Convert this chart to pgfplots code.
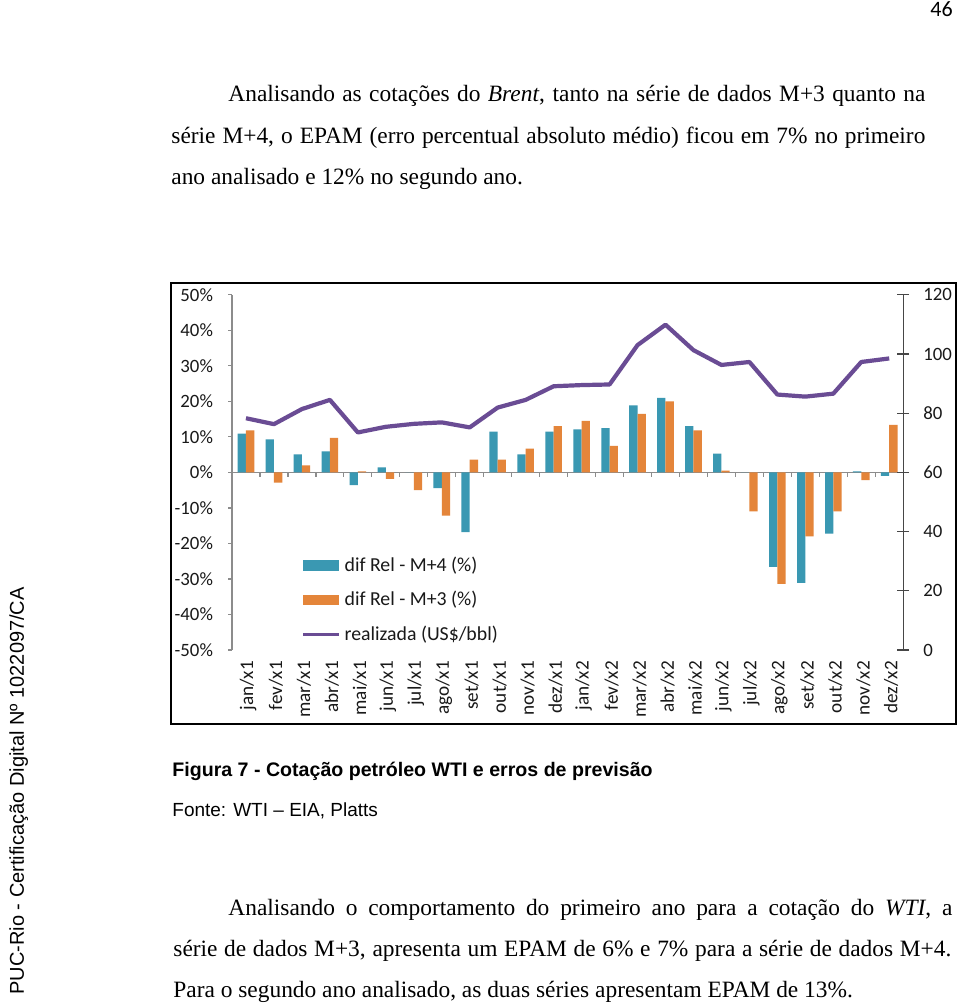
\documentclass[border=0pt]{standalone}
\usepackage{pgfplots}
\pgfplotsset{compat=1.18}
\usepackage{pgfplotstable}
\usepackage{fontspec}
\setmainfont{Liberation Serif}
\newfontfamily\carlito{Carlito}
\newfontfamily\arial{Liberation Sans}
\definecolor{mteal}{RGB}{58,152,178}
\definecolor{morange}{RGB}{228,133,58}
\definecolor{mpurple}{RGB}{106,76,148}
\definecolor{axgray}{RGB}{140,140,140}
\definecolor{raxis}{RGB}{70,70,70}
\definecolor{txt}{RGB}{25,25,25}

\pgfplotstableread{
idx m4 m3 real
0 10.9 11.8 78.3
1 9.3 -2.9 76.3
2 5.1 2.0 81.4
3 5.9 9.7 84.5
4 -3.6 0.3 73.5
5 1.4 -1.8 75.4
6 0.0 -5.0 76.4
7 -4.4 -12.2 76.9
8 -16.8 3.6 75.2
9 11.5 3.6 81.9
10 5.1 6.7 84.5
11 11.5 13.0 89.1
12 12.1 14.5 89.5
13 12.5 7.5 89.7
14 18.9 16.5 103.0
15 21.0 20.0 109.9
16 13.0 11.8 101.3
17 5.3 0.5 96.3
18 0.0 -11.0 97.3
19 -26.6 -31.4 86.3
20 -31.1 -18.0 85.6
21 -17.2 -11.0 86.6
22 0.3 -2.2 97.3
23 -1.0 13.4 98.5
}\datatable

\begin{document}
\begin{tikzpicture}[x=0.5pt,y=-0.5pt]
\path[use as bounding box, fill=white] (0,0) rectangle (960,1004);

% page number
\node[anchor=base west, inner sep=0, font=\carlito\fontsize{11}{12}\selectfont] at (930,17) {46};

% side text
\node[rotate=90, anchor=base west, inner sep=0, font=\arial\fontsize{10}{12}\selectfont] at (24,995) {PUC-Rio - Certificação Digital Nº 1022097/CA};

% paragraphs
\begin{scope}[every node/.style={anchor=base west, inner sep=0, font=\fontsize{11.7}{14}\selectfont}]
\node at (228,101.5) {\hbox to 348.5pt{Analisando as cotações do \textit{Brent}, tanto na série de dados M+3 quanto na}};
\node at (171,143.2) {\hbox to 377pt{série M+4, o EPAM (erro percentual absoluto médio) ficou em 7\% no primeiro}};
\node at (171,185) {ano analisado e 12\% no segundo ano.};
\node at (228,915) {\hbox to 362pt{Analisando o comportamento do primeiro ano para a cotação do \textit{WTI}, a}};
\node at (173,956) {\hbox to 389pt{série de dados M+3, apresenta um EPAM de 6\% e 7\% para a série de dados M+4.}};
\node at (173,997) {Para o segundo ano analisado, as duas séries apresentam EPAM de 13\%.};
\end{scope}

% caption
\node[anchor=base west, inner sep=0, font=\arial\bfseries\fontsize{9.8}{12}\selectfont] at (172,776) {Figura 7 - Cotação petróleo WTI e erros de previsão};
\node[anchor=base west, inner sep=0, font=\arial\fontsize{9.5}{12}\selectfont] at (172,816.5) {Fonte: WTI – EIA, Platts};

% chart frame
\draw[line width=1pt] (170.5,283.5) rectangle (956,723.5);

\coordinate (axsw) at (232,650);

\begin{axis}[
  at={(axsw)}, anchor=south west,
  scale only axis, width=335.6pt, height=177.6pt,
  xmin=-0.5, xmax=23.5, ymin=-50, ymax=50,
  axis y line*=left, axis x line*=bottom,
  axis line style={-},
  x axis line style={draw=none},
  y axis line style={axgray, line width=0.6pt},
  xtick={0,...,23},
  xticklabels={jan/x1,fev/x1,mar/x1,abr/x1,mai/x1,jun/x1,jul/x1,ago/x1,set/x1,out/x1,nov/x1,dez/x1,jan/x2,fev/x2,mar/x2,abr/x2,mai/x2,jun/x2,jul/x2,ago/x2,set/x2,out/x2,nov/x2,dez/x2},
  major x tick style={draw=none},
  xticklabel style={rotate=90, anchor=east, font=\carlito\fontsize{9.6}{10}\selectfont, text=txt, yshift=-1pt},
  ytick={-50,-40,...,50},
  yticklabels={-50\%,-40\%,-30\%,-20\%,-10\%,0\%,10\%,20\%,30\%,40\%,50\%},
  major y tick style={axgray, line width=0.6pt},
  tick align=outside, major tick length=2pt,
  yticklabel style={font=\carlito\fontsize{9.4}{10}\selectfont, text=txt, xshift=-4pt},
  legend style={at={(0.104,0.275)}, anchor=north west, draw=none, fill=none,
    font=\carlito\fontsize{9.9}{11}\selectfont, text=txt, row sep=4.5pt, inner sep=0pt},
  legend cell align=left,
  clip=false,
]
\draw[axgray, line width=0.6pt] (axis cs:-0.5,0) -- (axis cs:23.5,0);
\pgfplotsinvokeforeach{0.5,1.5,...,23.5}{\draw[axgray, line width=0.6pt] (axis cs:#1,0) -- ++(0pt,-2.5pt);}
\addplot[ybar, bar width=4.15pt, bar shift=-2.075pt, fill=mteal, draw=none,
  legend image code/.code={\fill[mteal] (0pt,-2.6pt) rectangle (18pt,2.6pt);}]
  table[x=idx, y=m4]{\datatable};
\addlegendentry{dif Rel - M+4 (\%)}
\addplot[ybar, bar width=4.15pt, bar shift=2.075pt, fill=morange, draw=none,
  legend image code/.code={\fill[morange] (0pt,-2.6pt) rectangle (18pt,2.6pt);}]
  table[x=idx, y=m3]{\datatable};
\addlegendentry{dif Rel - M+3 (\%)}
\addlegendimage{legend image code/.code={\draw[mpurple, line width=1.2pt] (0pt,0pt) -- (18pt,0pt);}}
\addlegendentry{realizada (US\$/bbl)}
\end{axis}

\begin{axis}[
  at={(axsw)}, anchor=south west,
  scale only axis, width=335.6pt, height=177.6pt,
  xmin=-0.5, xmax=23.5, ymin=0, ymax=120,
  axis y line*=right, axis x line=none,
  axis line style={-},
  y axis line style={raxis, line width=0.6pt},
  ytick={0,20,...,120},
  yticklabels={0,20,40,60,80,100,120},
  major y tick style={raxis, line width=0.6pt},
  tick align=center, major tick length=6pt,
  yticklabel style={font=\carlito\fontsize{9.4}{10}\selectfont, text=txt, xshift=3.5pt},
  clip=false,
]
\addplot[mpurple, line width=2.1pt, line join=round, mark=none]
  table[x=idx, y=real]{\datatable};
\end{axis}
\end{tikzpicture}
\end{document}
